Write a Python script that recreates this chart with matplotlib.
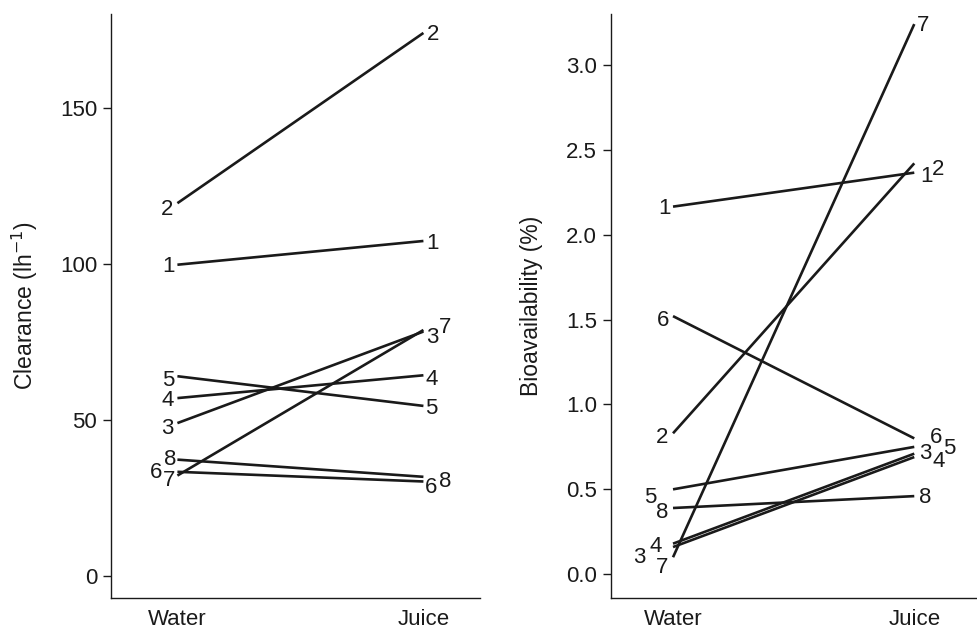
import numpy as np
import matplotlib.pyplot as plt

plt.rcParams['font.family'] = ['Liberation Sans', 'DejaVu Sans']

# subject ids and values (Water, Juice)
subjects = ['1', '2', '3', '4', '5', '6', '7', '8']
conditions = ['Water', 'Juice']

clearance_water = [99.7, 119.4, 49.0, 57.0, 64.0, 33.4, 32.2, 37.3]
clearance_juice = [107.3, 173.9, 78.3, 64.3, 54.5, 30.3, 78.8, 31.8]

bioavail_water = [2.165, 0.83, 0.16, 0.18, 0.50, 1.52, 0.10, 0.39]
bioavail_juice = [2.365, 2.42, 0.69, 0.71, 0.75, 0.80, 3.24, 0.46]

# label offsets in pixels (dx, dy) from line end to label centre
clear_off_water = [(-9, 1), (-10, -4), (-10, -2.5), (-9.5, 0), (-9.5, -1.5), (-21, 1.5), (-8, -2), (-7, 3)]
clear_off_juice = [(9.5, 0), (9.5, 1), (9, -3.5), (8, -2), (8, 0), (8, -4), (22, 5.5), (21.5, -2.5)]
bio_off_water = [(-8.5, 1), (-10.5, -1.5), (-33.5, -7.5), (-17.5, -0.5), (-23, -5.5), (-10, -2), (-10.5, -8), (-11, -1.5)]
bio_off_juice = [(12, -1.5), (24, -4), (11, 6.5), (24, -5.5), (34.5, 0.5), (21.5, 3), (8.5, 1), (10.5, 1)]

FS = 16
DIGIT_HALF = 8  # half the digit height in pixels, for centring on baseline
INK = '#1a1a1a'

fig = plt.figure(figsize=(9.77, 6.32), dpi=100)
ax1 = fig.add_axes([0.1136, 0.0538, 0.3777, 0.9242])
ax2 = fig.add_axes([0.6254, 0.0538, 0.3746, 0.9242])


def draw_panel(ax, water, juice, off_w, off_j):
    x = np.arange(len(conditions))
    for i, s in enumerate(subjects):
        ax.plot(x, [water[i], juice[i]], color=INK, lw=1.9,
                solid_capstyle='butt')
        dx, dy = off_w[i]
        ax.annotate(s, (0, water[i]), xytext=(dx, dy - DIGIT_HALF),
                    textcoords='offset pixels', ha='center', va='baseline',
                    fontsize=FS, color=INK)
        dx, dy = off_j[i]
        ax.annotate(s, (1, juice[i]), xytext=(dx, dy - DIGIT_HALF),
                    textcoords='offset pixels', ha='center', va='baseline',
                    fontsize=FS, color=INK)
    ax.set_xticks(x)
    ax.set_xticklabels(conditions)
    ax.spines['top'].set_visible(False)
    ax.spines['right'].set_visible(False)
    for sp in ('left', 'bottom'):
        ax.spines[sp].set_linewidth(1.0)
        ax.spines[sp].set_color(INK)
    ax.tick_params(axis='x', length=0, pad=8, labelsize=FS, labelcolor=INK)
    ax.tick_params(axis='y', length=6, width=1.0, direction='out', pad=4,
                   labelsize=FS, labelcolor=INK, color=INK)


draw_panel(ax1, clearance_water, clearance_juice, clear_off_water, clear_off_juice)
ax1.set_xlim(-0.27, 1.23)
ax1.set_ylim(-7, 180)
ax1.set_yticks([0, 50, 100, 150])
ax1.set_ylabel('Clearance (lh$^{-1}$)', fontsize=16.5, labelpad=14, color=INK)

draw_panel(ax2, bioavail_water, bioavail_juice, bio_off_water, bio_off_juice)
ax2.set_xlim(-0.257, 1.26)
ax2.set_ylim(-0.14, 3.30)
ax2.set_yticks([0.0, 0.5, 1.0, 1.5, 2.0, 2.5, 3.0])
ax2.set_yticklabels(['0.0', '0.5', '1.0', '1.5', '2.0', '2.5', '3.0'])
ax2.set_ylabel('Bioavailability (%)', fontsize=16.5, labelpad=17, color=INK)

fig.savefig('out.png', dpi=100)
